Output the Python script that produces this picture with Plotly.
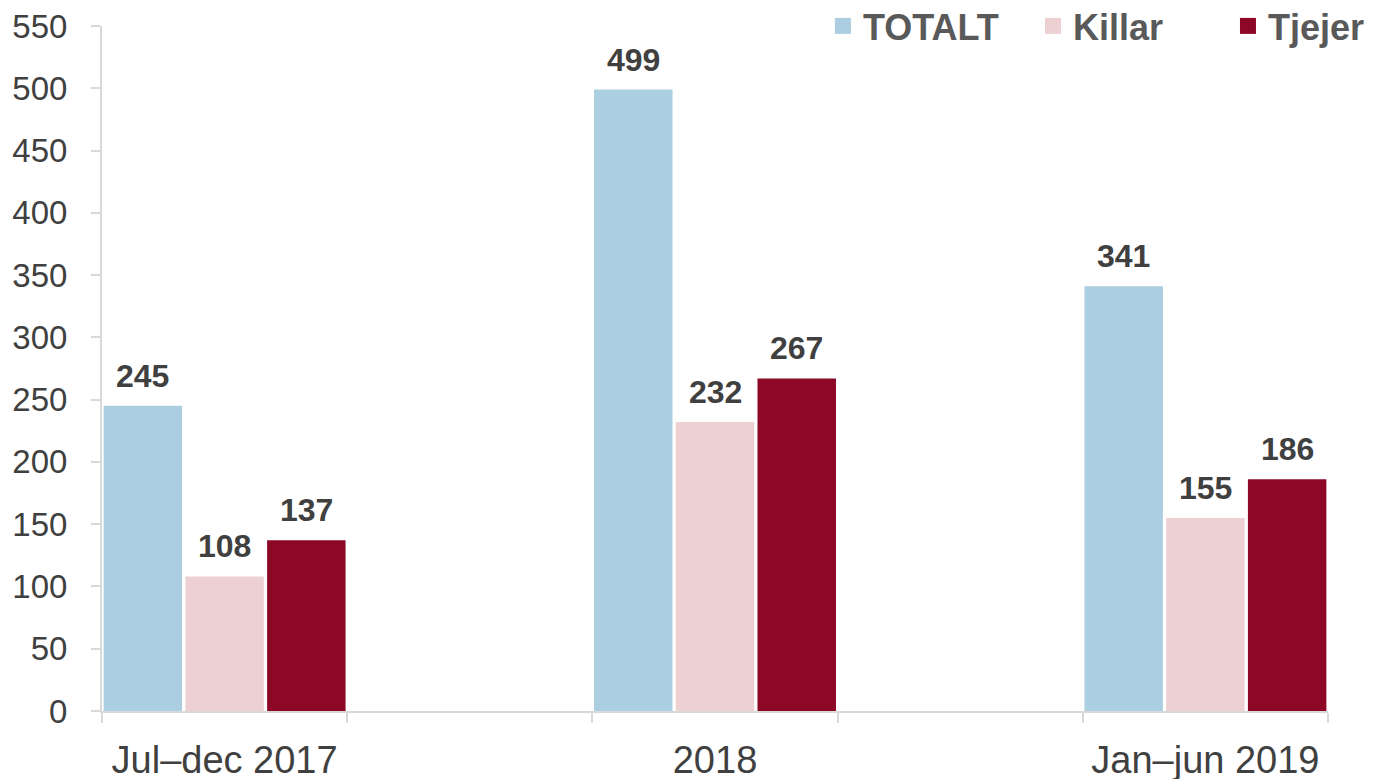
import plotly.graph_objects as go

# data
periods = ["Jul–dec 2017", "2018", "Jan–jun 2019"]
axis_categories = ["Jul–dec 2017", " ", "2018", "  ", "Jan–jun 2019"]
series_names = ["TOTALT", "Killar", "Tjejer"]
totalt = [245, 499, 341]
killar = [108, 232, 155]
tjejer = [137, 267, 186]
y_ticks = list(range(0, 551, 50))

colors = ["#abcfe1", "#edd0d1", "#8c0826"]
font_family = "Liberation Sans, Arial, sans-serif"
legend_x = [0.588, 0.7594, 0.9184]

# page body has an 8px margin, so the figure is a bit smaller than the window
W, H = 1369, 771
M_L, M_R, M_T, M_B = 94, 49, 18, 68
slot_px = (W - M_L - M_R) / len(axis_categories) / 3   # width of one bar slot

fig = go.Figure()
legend_layouts = {}
for i, (name, values, color) in enumerate(zip(series_names, [totalt, killar, tjejer], colors)):
    fig.add_trace(go.Bar(
        x=periods,
        y=values,
        name=name,
        marker=dict(color=color, line=dict(width=0)),
        showlegend=False,
        cliponaxis=False,
    ))
    # legend entry with a larger square swatch
    leg = "legend" if i == 0 else f"legend{i + 1}"
    fig.add_trace(go.Scatter(
        x=[None], y=[None], mode="markers", name=name,
        marker=dict(symbol="square", size=16, color=color),
        legend=leg,
    ))
    legend_layouts[leg] = dict(
        orientation="h", xanchor="left", x=legend_x[i],
        yanchor="middle", y=1.0,
        font=dict(family=font_family, size=36, color="#595959", weight="bold"),
        itemwidth=30, bgcolor="rgba(0,0,0,0)",
    )
    for p, v in zip(periods, values):
        fig.add_annotation(
            x=axis_categories.index(p), y=v, text=str(v),
            xref="x", yref="y",
            xshift=(i - 1) * slot_px,
            yshift=10,
            yanchor="bottom",
            showarrow=False,
            font=dict(family=font_family, size=32, color="#404040", weight="bold"),
        )

fig.update_layout(
    width=W,
    height=H,
    margin=dict(l=M_L, r=M_R, t=M_T, b=M_B, autoexpand=False),
    paper_bgcolor="white",
    plot_bgcolor="white",
    barmode="group",
    bargap=0,
    bargroupgap=0.04,
    xaxis=dict(
        type="category",
        categoryorder="array",
        categoryarray=axis_categories,
        range=[-0.5, 4.5],
        tickson="boundaries",
        ticks="outside",
        ticklen=10,
        tickwidth=2,
        tickcolor="#d9d9d9",
        showline=True,
        linecolor="#d9d9d9",
        linewidth=2,
        showgrid=False,
        automargin=False,
        ticklabelstandoff=14,
        ticklabeloverflow="allow",
        tickfont=dict(family=font_family, size=38, color="#404040"),
    ),
    yaxis=dict(
        range=[0, 550],
        tickvals=y_ticks,
        ticks="outside",
        ticklen=9,
        tickwidth=2,
        tickcolor="#d9d9d9",
        showline=True,
        linecolor="#d9d9d9",
        linewidth=2,
        showgrid=False,
        zeroline=False,
        automargin=False,
        ticklabelstandoff=17,
        ticklabeloverflow="allow",
        tickfont=dict(family=font_family, size=33, color="#404040"),
    ),
    **legend_layouts,
)

fig.write_html("out.html")
